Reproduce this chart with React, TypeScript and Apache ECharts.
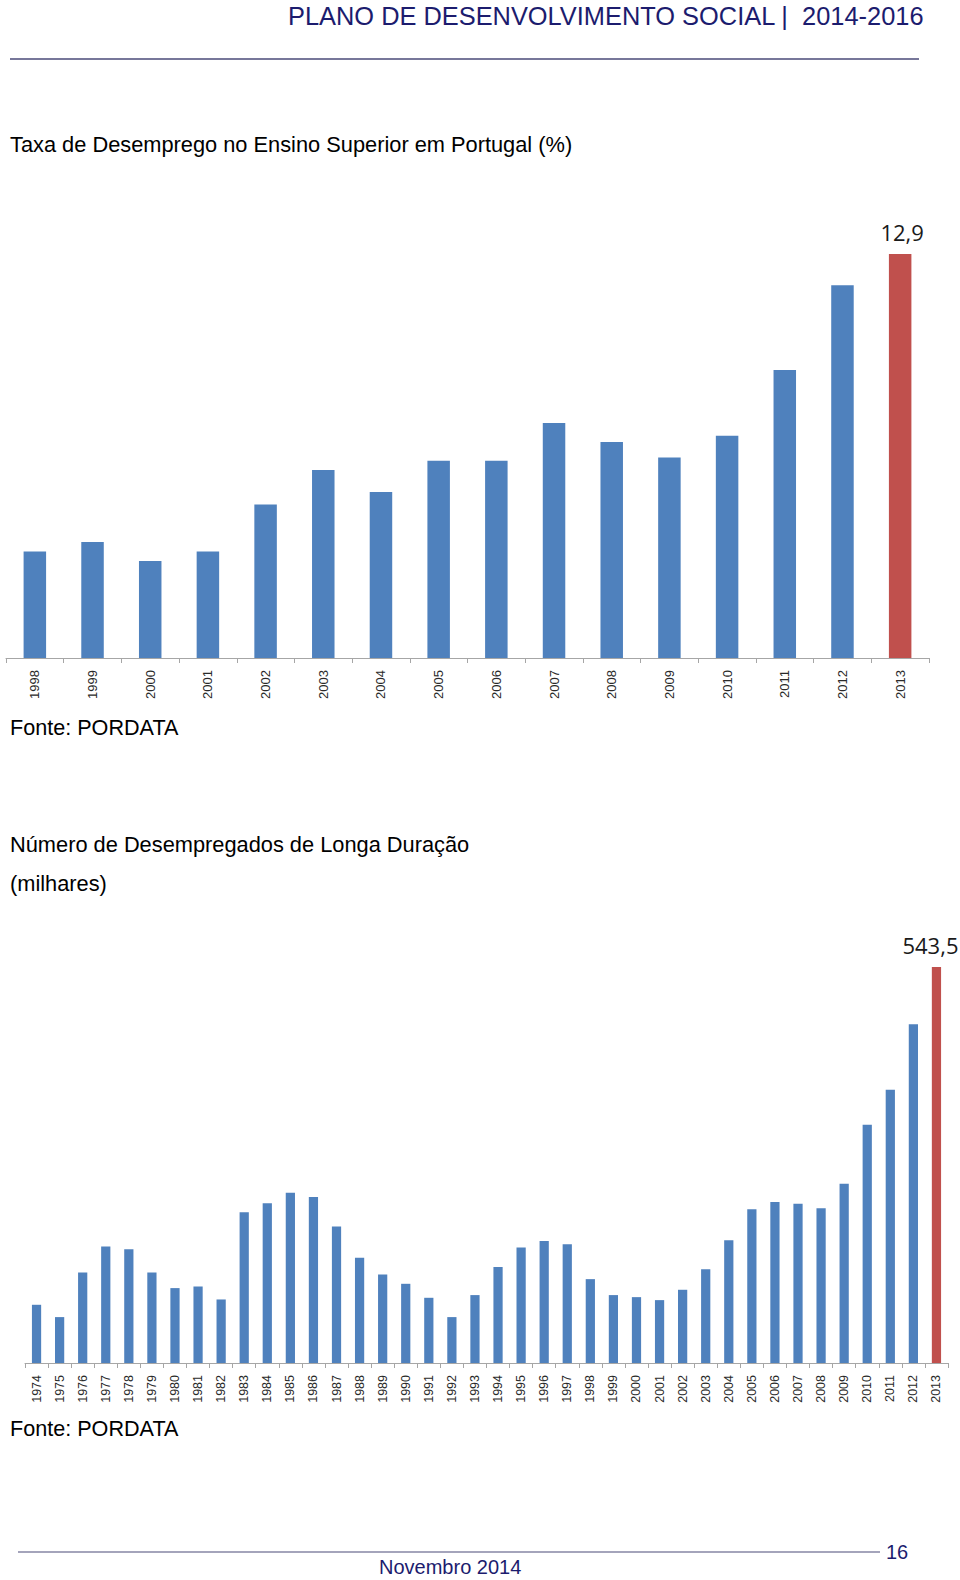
import React, { useEffect, useRef } from "react";
import * as echarts from "echarts";

const years1: string[] = ["1998","1999","2000","2001","2002","2003","2004","2005","2006","2007","2008","2009","2010","2011","2012","2013"];
const rate1: number[] = [3.4,3.7,3.1,3.4,4.9,6.0,5.3,6.3,6.3,7.5,6.9,6.4,7.1,9.2,11.9,12.9];

const years2: string[] = ["1974","1975","1976","1977","1978","1979","1980","1981","1982","1983","1984","1985","1986","1987","1988","1989","1990","1991","1992","1993","1994","1995","1996","1997","1998","1999","2000","2001","2002","2003","2004","2005","2006","2007","2008","2009","2010","2011","2012","2013"];
const longTerm2: number[] = [79.9,63,124.2,159.8,156.2,124.2,102.8,105,87.2,206.9,219.3,233.8,227.9,187.2,144.3,121.4,108.7,89.5,63,93.2,131.6,158.4,167.6,163.1,115.1,93.2,90.4,86.3,100.5,128.8,168.6,211,221,218.7,212.4,246.1,327,375,465,543.5];

const headerText = "PLANO DE DESENVOLVIMENTO SOCIAL |\u00a0\u00a02014-2016";
const title1 = "Taxa de Desemprego no Ensino Superior em Portugal (%)";
const title2a = "Número de Desempregados de Longa Duração";
const title2b = "(milhares)";
const sourceText = "Fonte: PORDATA";
const footerText = "Novembro 2014";
const pageNumber = "16";

const BLUE = "#4f81bd";
const RED = "#c0504d";
const SANS = '"Liberation Sans", Arial, Helvetica, sans-serif';
const NAVY = "#1c1c6e";

function fmt(v: number): string {
  return String(v).replace(".", ",");
}

function barData(values: number[], offsetX: number) {
  return values.map((v, i) => {
    if (i === values.length - 1) {
      return {
        value: v,
        itemStyle: { color: RED },
        label: {
          show: true,
          position: "top",
          distance: 11,
          offset: [offsetX, 0],
          formatter: fmt(v),
          fontFamily: '"Open Sans", sans-serif',
          fontSize: 22,
          color: "#1a1a1a",
        },
      };
    }
    return { value: v, itemStyle: { color: BLUE } };
  });
}

function xAxisFor(idx: number, cats: string[], fontSize: number) {
  return {
    type: "category",
    gridIndex: idx,
    data: cats,
    boundaryGap: true,
    axisLine: { show: true, lineStyle: { color: "#a6a6a6", width: 1 } },
    axisTick: { show: true, length: 5, lineStyle: { color: "#a6a6a6" } },
    axisLabel: {
      interval: 0,
      rotate: 90,
      margin: 12,
      fontFamily: SANS,
      fontSize,
      color: "#2a2a2a",
    },
  };
}

export default function App() {
  const ref = useRef<HTMLDivElement>(null);

  useEffect(() => {
    if (!ref.current) return;
    const chart = echarts.init(ref.current, undefined, { renderer: "svg" });
    const text = (t: string, x: number, y: number, size: number, fill: string, align = "left") => ({
      type: "text",
      style: {
        text: t,
        x,
        y,
        fill,
        font: `${size}px ${SANS}`,
        textAlign: align,
        textVerticalAlign: "middle",
      },
    });
    chart.setOption({
      animation: false,
      backgroundColor: "#ffffff",
      grid: [
        { left: 6, right: 31, top: 254, bottom: 922, containLabel: false },
        { left: 25, right: 12, top: 967, bottom: 217, containLabel: false },
      ],
      xAxis: [xAxisFor(0, years1, 13), xAxisFor(1, years2, 12.5)],
      yAxis: [
        { type: "value", gridIndex: 0, min: 0, max: 12.9, show: false, splitLine: { show: false } },
        { type: "value", gridIndex: 1, min: 0, max: 543.5, show: false, splitLine: { show: false } },
      ],
      series: [
        { type: "bar", xAxisIndex: 0, yAxisIndex: 0, barWidth: "39%", data: barData(rate1, 2) },
        { type: "bar", xAxisIndex: 1, yAxisIndex: 1, barWidth: "40%", data: barData(longTerm2, -6) },
      ],
      graphic: [
        text(headerText, 288, 16, 25.4, NAVY),
        {
          type: "line",
          shape: { x1: 10, y1: 59, x2: 919, y2: 59 },
          style: { stroke: "#4a4a78", lineWidth: 1.5 },
        },
        text(title1, 10, 144, 21.8, "#000000"),
        text(sourceText, 10, 727, 21.6, "#000000"),
        text(title2a, 10, 844, 21.8, "#000000"),
        text(title2b, 10, 883, 21.8, "#000000"),
        text(sourceText, 10, 1428, 21.6, "#000000"),
        {
          type: "line",
          shape: { x1: 18, y1: 1552, x2: 880, y2: 1552 },
          style: { stroke: "#4a4a78", lineWidth: 1.2 },
        },
        text(pageNumber, 886, 1552, 20, NAVY),
        text(footerText, 379, 1567, 20, NAVY),
      ],
    });
    return () => chart.dispose();
  }, []);

  return (
    <div
      ref={ref}
      style={{ position: "absolute", left: 0, top: 0, width: 960, height: 1580, background: "#fff" }}
    />
  );
}
